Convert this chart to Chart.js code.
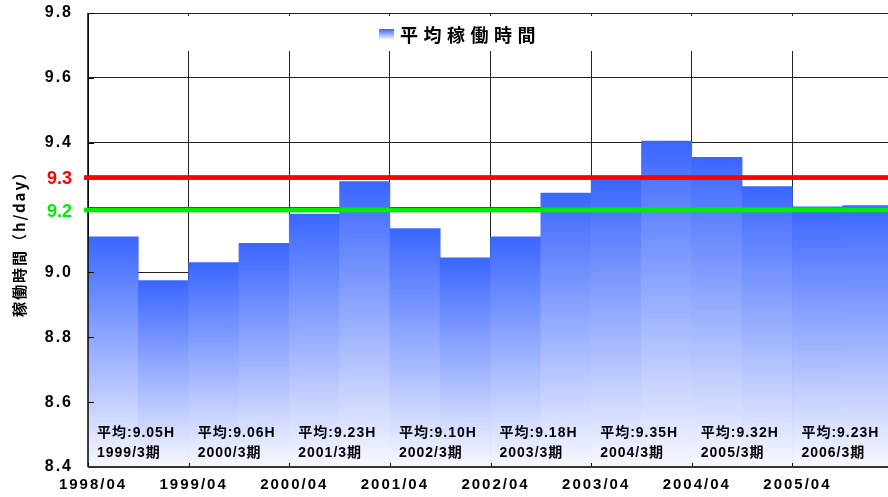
<!DOCTYPE html>
<html>
<head>
<meta charset="utf-8">
<script src="https://cdn.jsdelivr.net/npm/chart.js@4"></script>
<style>
  html, body { margin: 0; background: #fff; }
  #wrap { width: 888px; height: 497px; }
</style>
</head>
<body>
<div id="wrap"><canvas id="workHoursChart"></canvas></div>
<script>
const LEGEND_LABEL = "平均稼働時間";
const Y_TITLE = "稼働時間（h/day）";

// 半期ごとの平均稼働時間 (1998/04 から)
const HALF_YEAR_HOURS = [
  9.11, 8.975, 9.03, 9.09, 9.18, 9.28, 9.135, 9.045,
  9.11, 9.245, 9.285, 9.405, 9.355, 9.265, 9.202, 9.206,
];

const YEAR_TICKS = [
  "1998/04", "1999/04", "2000/04", "2001/04",
  "2002/04", "2003/04", "2004/04", "2005/04",
];

const Y_TICKS = [8.4, 8.6, 8.8, 9.0, 9.2, 9.4, 9.6, 9.8];

const FISCAL_AVERAGES = ["9.05", "9.06", "9.23", "9.10", "9.18", "9.35", "9.32", "9.23"];
const FISCAL_PERIODS = [
  "1999/3期", "2000/3期", "2001/3期", "2002/3期",
  "2003/3期", "2004/3期", "2005/3期", "2006/3期",
];

const TARGET_LINES = [9.3, 9.2];
const TARGET_COLORS = ["#ff0000", "#00ee00"];

const BAR_TOP = "#3a66ff";
const BAR_BOTTOM = "#f8f8ff";
const LABEL_FONT = "'Liberation Sans', 'Noto Sans CJK JP', sans-serif";
const JP_FONT = "'Noto Sans CJK JP', sans-serif";

function barGradient(c) {
  const chart = c.chart;
  if (!chart.chartArea || !c.raw) return BAR_TOP;
  const y = chart.scales.y;
  const top = y.getPixelForValue(c.raw.y);
  const g = chart.ctx.createLinearGradient(0, top, 0, y.bottom);
  g.addColorStop(0, BAR_TOP);
  g.addColorStop(1, BAR_BOTTOM);
  return g;
}

const decor = {
  id: "decor",
  beforeDraw(chart) {
    chart.ctx.letterSpacing = "2px";
  },
  beforeDatasetsDraw(chart) {
    const { ctx, chartArea: a } = chart;
    ctx.letterSpacing = "0px";
    // 凡例の背景
    ctx.save();
    ctx.fillStyle = "#fff";
    ctx.fillRect(a.left + 1, a.top + 3, a.right - a.left - 1, 35);
    ctx.restore();
  },
  afterDatasetsDraw(chart) {
    const { ctx, chartArea: a, scales } = chart;
    const x = scales.x, y = scales.y;
    ctx.save();

    // 内向きの目盛り
    ctx.strokeStyle = "#000";
    ctx.lineWidth = 1;
    ctx.beginPath();
    Y_TICKS.forEach((v) => {
      const py = Math.round(y.getPixelForValue(v)) + 0.5;
      ctx.moveTo(a.left, py);
      ctx.lineTo(a.left + 6, py);
    });
    YEAR_TICKS.forEach((_, i) => {
      const px = Math.round(x.getPixelForValue(i * 2)) + 0.5;
      ctx.moveTo(px, a.bottom);
      ctx.lineTo(px, a.bottom - 4);
    });
    ctx.stroke();

    // 軸線
    ctx.lineWidth = 1.5;
    ctx.beginPath();
    ctx.moveTo(a.left, a.top);
    ctx.lineTo(a.left, a.bottom);
    ctx.stroke();
    ctx.strokeStyle = "#333";
    ctx.lineWidth = 2;
    ctx.beginPath();
    ctx.moveTo(a.left, a.bottom);
    ctx.lineTo(a.right, a.bottom);
    ctx.stroke();

    // 目標ライン
    ctx.font = "bold 18px 'Liberation Sans', sans-serif";
    ctx.textAlign = "right";
    ctx.textBaseline = "middle";
    TARGET_LINES.forEach((v, i) => {
      const py = y.getPixelForValue(v);
      ctx.fillStyle = TARGET_COLORS[i];
      ctx.fillRect(a.left - 4, py, a.right - a.left + 4, 4.8);
      ctx.fillText(v.toFixed(1), a.left - 16, py + 4);
    });

    // 期ごとの平均
    ctx.fillStyle = "#000";
    ctx.textAlign = "left";
    ctx.font = "bold 14px " + LABEL_FONT;
    ctx.letterSpacing = "1px";
    FISCAL_AVERAGES.forEach((avg, i) => {
      const px = x.getPixelForValue(i * 2) + 9;
      ctx.fillText("平均:" + avg + "H", px, a.bottom - 34);
      ctx.fillText(FISCAL_PERIODS[i], px, a.bottom - 14);
    });

    // 凡例
    const lx = a.left + 291, ly = a.top + 16;
    const g = ctx.createLinearGradient(0, ly, 0, ly + 11);
    g.addColorStop(0, BAR_TOP);
    g.addColorStop(1, "#ffffff");
    ctx.fillStyle = g;
    ctx.fillRect(lx, ly, 15, 11);
    ctx.fillStyle = "#000";
    ctx.font = "bold 18px " + JP_FONT;
    ctx.letterSpacing = "5.5px";
    ctx.fillText(LEGEND_LABEL, lx + 21, ly + 6);
    ctx.restore();
  },
};

const workHoursData = {
  datasets: [
    {
      label: LEGEND_LABEL,
      data: HALF_YEAR_HOURS.map((v, i) => ({ x: i + 0.5, y: v })),
      backgroundColor: barGradient,
      borderWidth: 0,
      barPercentage: 1,
      categoryPercentage: 1,
    },
  ],
};

const config = {
  type: "bar",
  data: workHoursData,
  plugins: [decor],
  options: {
    responsive: true,
    maintainAspectRatio: false,
    animation: false,
    layout: { padding: { top: 13, right: 0, bottom: 0, left: 0 } },
    plugins: {
      legend: { display: false },
      tooltip: { enabled: false },
    },
    scales: {
      x: {
        type: "linear",
        offset: false,
        min: 0,
        max: 15.9,
        afterBuildTicks(scale) {
          scale.ticks = YEAR_TICKS.map((_, i) => ({ value: i * 2 }));
        },
        afterFit(scale) {
          scale.height = 30;
        },
        grid: { color: "#222", lineWidth: 1, drawTicks: false, offset: false },
        border: { display: false },
        ticks: {
          autoSkip: false,
          maxRotation: 0,
          padding: 9,
          labelOffset: 5,
          color: "#000",
          font: { family: LABEL_FONT, size: 15, weight: "bold" },
          callback: (v, i) => YEAR_TICKS[i],
        },
      },
      y: {
        min: 8.4,
        max: 9.8,
        afterBuildTicks(scale) {
          scale.ticks = Y_TICKS.map((v) => ({ value: v }));
        },
        afterFit(scale) {
          scale.width = 88;
        },
        grid: {
          color: "#222",
          lineWidth: 1,
          drawTicks: true,
          tickLength: 15,
          tickColor: "rgba(0,0,0,0)",
        },
        border: { display: false },
        ticks: {
          padding: 0,
          color: "#000",
          font: { family: LABEL_FONT, size: 16, weight: "bold" },
          callback: (v) => (TARGET_LINES.includes(v) ? "" : v.toFixed(1)),
        },
        title: {
          display: true,
          text: Y_TITLE,
          color: "#000",
          padding: { top: 10, bottom: 0 },
          font: { family: JP_FONT, size: 15, weight: "bold" },
        },
      },
    },
  },
};

const ctx = document.getElementById("workHoursChart").getContext("2d");

new Chart(ctx, config);
</script>
</body>
</html>
